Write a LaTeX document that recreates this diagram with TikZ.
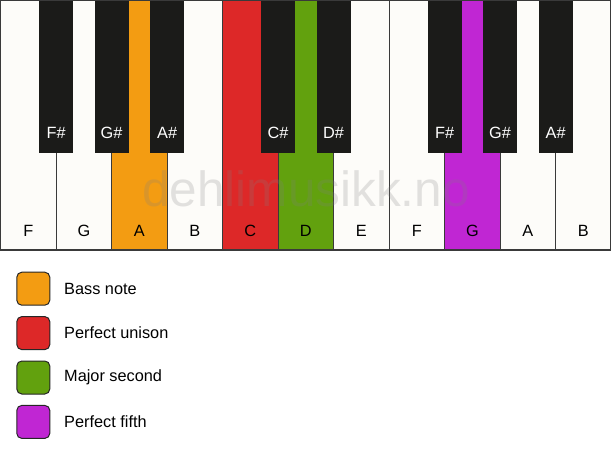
\documentclass[tikz,border=0pt]{standalone}
\usepackage{fontspec}
\setmainfont{Liberation Sans}
\definecolor{keywhite}{HTML}{FDFCF9}
\definecolor{keyblack}{HTML}{1B1B19}
\definecolor{keyline}{HTML}{3A3A3A}
\definecolor{bassc}{HTML}{F39C12}
\definecolor{unisonc}{HTML}{DD2828}
\definecolor{secondc}{HTML}{62A10E}
\definecolor{fifthc}{HTML}{C026D3}
\tikzset{
  whitekey/.style={draw=keyline, line width=1.1pt, fill=keywhite, minimum width=55.5pt, minimum height=249.5pt, inner sep=0pt, outer sep=0pt, anchor=north west},
  blackkey/.style={fill=keyblack, minimum width=34pt, minimum height=153pt, inner sep=0pt, outer sep=0pt, anchor=north},
  wlabel/.style={font=\fontsize{16.3}{19}\selectfont, text=black, inner sep=0pt},
  blabel/.style={font=\fontsize{16.3}{19}\selectfont, text=white, inner sep=0pt},
  legbox/.style={draw=black!85, line width=1pt, rounded corners=5pt, minimum width=33pt, minimum height=33pt, inner sep=0pt},
  legtext/.style={font=\fontsize{16.3}{19}\selectfont, anchor=west, inner sep=0pt},
}
\begin{document}
\begin{tikzpicture}[x=1pt,y=-1pt]
\useasboundingbox (0,0) rectangle (611,461);
% white keys
\foreach \i/\n/\c in {0/F/keywhite,1/G/keywhite,2/A/bassc,3/B/keywhite,4/C/unisonc,5/D/secondc,6/E/keywhite,7/F/keywhite,8/G/fifthc,9/A/keywhite,10/B/keywhite}{
  \node[whitekey, fill=\c] (w\i) at (0.6+55.5*\i,0.6) {};
  \node[wlabel] (wl\i) at ([yshift=19.5pt]w\i.south) {\n};
}
% black keys
\foreach \b/\n in {1/F\#,2/G\#,3/A\#,5/C\#,6/D\#,8/F\#,9/G\#,10/A\#}{
  \node[blackkey] (b\b) at (0.6+55.5*\b,0) {};
  \node[blabel] (bl\b) at ([yshift=20pt]b\b.south) {\n};
}
% outer border
\draw[keyline, line width=1.5pt] (w0.north west) rectangle (w10.south east);
% watermark
\node[font=\fontsize{49.5}{52}\selectfont, text=black!50, opacity=0.22, inner sep=0pt, anchor=base] (wm) at (306,206.7) {dehlimusikk.no};
% legend
\foreach \k/\c/\t [count=\j from 0] in {bass/bassc/Bass note,unison/unisonc/Perfect unison,second/secondc/Major second,fifth/fifthc/Perfect fifth}{
  \node[legbox, fill=\c] (lb\k) at (33.3,288.7+44.4*\j) {};
  \node[legtext] (lt\k) at (64,288.7+44.4*\j) {\t};
}
\end{tikzpicture}
\end{document}
